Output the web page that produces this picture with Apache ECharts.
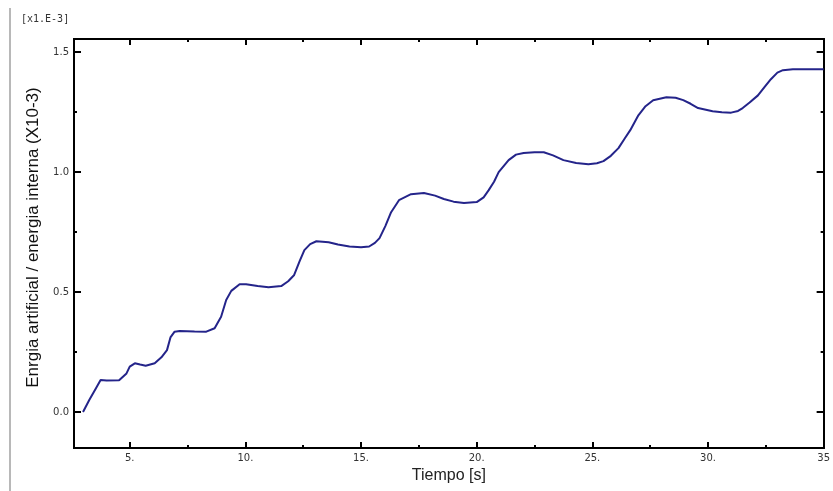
<!DOCTYPE html>
<html>
<head>
<meta charset="utf-8">
<script src="https://cdn.jsdelivr.net/npm/echarts@6/dist/echarts.min.js"></script>
<style>html,body{margin:0;padding:0;background:#fff}#c{width:833px;height:491px}</style>
</head>
<body>
<div id="c"></div>
<script>
const tiempo = [2.98,3.25,3.54,3.74,4.0,4.54,4.86,5.0,5.22,5.45,5.69,6.08,6.37,6.61,6.76,6.94,7.16,7.8,8.31,8.67,8.95,9.17,9.39,9.75,10.03,10.53,11.0,11.55,11.85,12.1,12.35,12.55,12.8,13.07,13.6,14.0,14.5,15.0,15.35,15.6,15.8,16.05,16.3,16.64,17.16,17.72,18.2,18.58,19.0,19.45,20.0,20.3,20.52,20.75,20.95,21.38,21.7,22.03,22.5,22.9,23.3,23.75,24.3,24.83,25.2,25.48,25.8,26.13,26.4,26.64,26.99,27.3,27.63,28.2,28.6,28.93,29.25,29.57,30.2,30.6,31.0,31.3,31.5,31.8,32.16,32.45,32.72,33.0,33.24,33.67,35];
const energia = [0,0.05,0.099,0.133,0.131,0.132,0.161,0.189,0.203,0.198,0.193,0.203,0.228,0.258,0.311,0.335,0.3375,0.336,0.335,0.349,0.397,0.467,0.505,0.533,0.533,0.525,0.52,0.525,0.545,0.57,0.63,0.675,0.700,0.712,0.708,0.698,0.69,0.687,0.69,0.705,0.725,0.775,0.833,0.883,0.908,0.913,0.902,0.888,0.877,0.871,0.875,0.895,0.925,0.96,1.0,1.05,1.073,1.08,1.083,1.083,1.07,1.05,1.038,1.033,1.037,1.046,1.068,1.1,1.14,1.175,1.237,1.275,1.3,1.3125,1.31,1.3,1.285,1.267,1.254,1.25,1.248,1.255,1.267,1.29,1.32,1.355,1.3875,1.415,1.425,1.429,1.429];
const xMajor = [5,10,15,20,25,30,35];
const xMajorLabels = ['5.','10.','15.','20.','25.','30.','35'];
const xMinor = [7.5,12.5,17.5,22.5,27.5,32.5];
const yMajor = [0,0.5,1.0,1.5];
const yMajorLabels = ['0.0','0.5','1.0','1.5'];
const yMinor = [0.25,0.75,1.25];

const X_MIN = 2.59, X_MAX = 35, Y_MIN = -0.15, Y_MAX = 1.555;
const font = 'DejaVu Sans';
const lineStyle = {color:'#000', width:2};

function xAx(pos, ticks, len, labels, extra) {
  return Object.assign({
    type:'value', position:pos, min:X_MIN, max:X_MAX,
    axisLine:{show:true, onZero:false, lineStyle},
    axisTick:{show:true, inside:true, length:len, customValues:ticks, lineStyle:{color:'#000', width:2}},
    axisLabel: labels ? {show:true, customValues:xMajor, margin:5, fontFamily:font, fontSize:10, color:'#333',
      formatter:(v)=>{const i=xMajor.indexOf(v);return i>=0?xMajorLabels[i]:'';}} : {show:false},
    splitLine:{show:false}
  }, extra||{});
}
function yAx(pos, ticks, len, labels, extra) {
  return Object.assign({
    type:'value', position:pos, min:Y_MIN, max:Y_MAX,
    axisLine:{show:true, onZero:false, lineStyle},
    axisTick:{show:true, inside:true, length:len, customValues:ticks, lineStyle:{color:'#000', width:2}},
    axisLabel: labels ? {show:true, customValues:yMajor, margin:5, fontFamily:font, fontSize:10, color:'#333',
      formatter:(v)=>{const i=yMajor.indexOf(v);return i>=0?yMajorLabels[i]:'';}} : {show:false},
    splitLine:{show:false}
  }, extra||{});
}

const chart = echarts.init(document.getElementById('c'), null, {renderer:'canvas'});
chart.setOption({
  animation:false,
  backgroundColor:'#fff',
  grid:{left:74, right:4, top:39, bottom:43, containLabel:false},
  xAxis:[
    xAx('bottom', xMajor, 6, true, {name:'Tiempo [s]', nameLocation:'middle', nameGap:17,
      nameTextStyle:{fontFamily:'Liberation Sans', fontSize:16, color:'#222'}}),
    xAx('bottom', xMinor, 3, false),
    xAx('top', xMajor, 6, false),
    xAx('top', xMinor, 3, false)
  ],
  yAxis:[
    yAx('left', yMajor, 7, true, {name:'Enrgia artificial / energia interna (X10-3)', nameLocation:'middle', nameGap:31,
      nameTextStyle:{fontFamily:'Liberation Sans', fontSize:17, color:'#111', padding:[0,0,0,12]}}),
    yAx('left', yMinor, 3, false),
    yAx('right', yMajor, 7, false),
    yAx('right', yMinor, 3, false)
  ],
  series:[{
    type:'line', xAxisIndex:0, yAxisIndex:0,
    data: tiempo.map((t,i)=>[t, energia[i]]),
    showSymbol:false, symbol:'none',
    lineStyle:{color:'#24248a', width:2},
    smooth:false
  }],
  graphic:[
    {type:'text', left:21, top:14, style:{text:'[x1.E-3]', font:'10px "DejaVu Sans Mono"', fill:'#333'}},
    {type:'line', shape:{x1:10, y1:8, x2:10, y2:491}, style:{stroke:'#a0a0a0', lineWidth:1.5}}
  ]
});
</script>
</body>
</html>
